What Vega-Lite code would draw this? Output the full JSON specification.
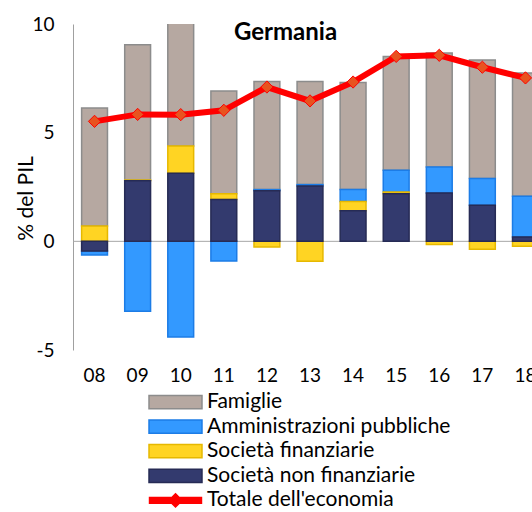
{
  "$schema": "https://vega.github.io/schema/vega-lite/v6.json",
  "width": 459,
  "height": 326,
  "autosize": {"type": "none"},
  "padding": {"left": 73, "top": 24, "right": 0, "bottom": 162},
  "background": "white",
  "config": {
    "view": {"stroke": null},
    "font": "Lato",
    "axis": {"labelFont": "Lato", "titleFont": "Lato", "labelColor": "black", "titleColor": "black", "grid": false, "ticks": false},
    "axisY": {"titleFontSize": 21, "titleFontWeight": "normal", "labelFontSize": 19}
  },
  "title": {"text": "Germania", "font": "Lato", "fontSize": 24, "fontWeight": "bold", "color": "black", "anchor": "middle", "baseline": "top", "offset": 0, "dx": -17, "dy": 30},
  "datasets": {
    "bars": [
      {"year": "08", "series": "Famiglie", "value": 5.43, "ord": 4},
      {"year": "08", "series": "Amministrazioni pubbliche", "value": -0.18, "ord": 3},
      {"year": "08", "series": "Società finanziarie", "value": 0.70, "ord": 2},
      {"year": "08", "series": "Società non finanziarie", "value": -0.45, "ord": 1},
      {"year": "09", "series": "Famiglie", "value": 6.23, "ord": 4},
      {"year": "09", "series": "Amministrazioni pubbliche", "value": -3.22, "ord": 3},
      {"year": "09", "series": "Società finanziarie", "value": 0.03, "ord": 2},
      {"year": "09", "series": "Società non finanziarie", "value": 2.79, "ord": 1},
      {"year": "10", "series": "Famiglie", "value": 5.84, "ord": 4},
      {"year": "10", "series": "Amministrazioni pubbliche", "value": -4.40, "ord": 3},
      {"year": "10", "series": "Società finanziarie", "value": 1.26, "ord": 2},
      {"year": "10", "series": "Società non finanziarie", "value": 3.13, "ord": 1},
      {"year": "11", "series": "Famiglie", "value": 4.73, "ord": 4},
      {"year": "11", "series": "Amministrazioni pubbliche", "value": -0.91, "ord": 3},
      {"year": "11", "series": "Società finanziarie", "value": 0.26, "ord": 2},
      {"year": "11", "series": "Società non finanziarie", "value": 1.93, "ord": 1},
      {"year": "12", "series": "Famiglie", "value": 4.97, "ord": 4},
      {"year": "12", "series": "Amministrazioni pubbliche", "value": 0.05, "ord": 3},
      {"year": "12", "series": "Società finanziarie", "value": -0.26, "ord": 2},
      {"year": "12", "series": "Società non finanziarie", "value": 2.33, "ord": 1},
      {"year": "13", "series": "Famiglie", "value": 4.75, "ord": 4},
      {"year": "13", "series": "Amministrazioni pubbliche", "value": 0.06, "ord": 3},
      {"year": "13", "series": "Società finanziarie", "value": -0.92, "ord": 2},
      {"year": "13", "series": "Società non finanziarie", "value": 2.55, "ord": 1},
      {"year": "14", "series": "Famiglie", "value": 4.92, "ord": 4},
      {"year": "14", "series": "Amministrazioni pubbliche", "value": 0.56, "ord": 3},
      {"year": "14", "series": "Società finanziarie", "value": 0.42, "ord": 2},
      {"year": "14", "series": "Società non finanziarie", "value": 1.41, "ord": 1},
      {"year": "15", "series": "Famiglie", "value": 5.24, "ord": 4},
      {"year": "15", "series": "Amministrazioni pubbliche", "value": 1.00, "ord": 3},
      {"year": "15", "series": "Società finanziarie", "value": 0.08, "ord": 2},
      {"year": "15", "series": "Società non finanziarie", "value": 2.19, "ord": 1},
      {"year": "16", "series": "Famiglie", "value": 5.25, "ord": 4},
      {"year": "16", "series": "Amministrazioni pubbliche", "value": 1.20, "ord": 3},
      {"year": "16", "series": "Società finanziarie", "value": -0.15, "ord": 2},
      {"year": "16", "series": "Società non finanziarie", "value": 2.22, "ord": 1},
      {"year": "17", "series": "Famiglie", "value": 5.45, "ord": 4},
      {"year": "17", "series": "Amministrazioni pubbliche", "value": 1.23, "ord": 3},
      {"year": "17", "series": "Società finanziarie", "value": -0.37, "ord": 2},
      {"year": "17", "series": "Società non finanziarie", "value": 1.66, "ord": 1},
      {"year": "18", "series": "Famiglie", "value": 5.68, "ord": 4},
      {"year": "18", "series": "Amministrazioni pubbliche", "value": 1.87, "ord": 3},
      {"year": "18", "series": "Società finanziarie", "value": -0.23, "ord": 2},
      {"year": "18", "series": "Società non finanziarie", "value": 0.20, "ord": 1}
    ],
    "tot": [
      {"year": "08", "total": 5.52},
      {"year": "09", "total": 5.84},
      {"year": "10", "total": 5.83},
      {"year": "11", "total": 6.03},
      {"year": "12", "total": 7.10},
      {"year": "13", "total": 6.46},
      {"year": "14", "total": 7.33},
      {"year": "15", "total": 8.51},
      {"year": "16", "total": 8.56},
      {"year": "17", "total": 8.01},
      {"year": "18", "total": 7.52}
    ]
  },
  "encoding": {
    "x": {
      "field": "year", "type": "ordinal",
      "scale": {"range": [0, 474], "paddingInner": 0.4, "paddingOuter": 0.2},
      "axis": {"title": null, "domain": false, "labelAngle": 0, "labelFontSize": 19, "labelPadding": 16}
    }
  },
  "layer": [
    {
      "data": {"values": [{"z": 0}]},
      "mark": {"type": "rule", "color": "#a6a6a6", "strokeWidth": 1, "clip": true},
      "encoding": {
        "y": {
          "field": "z", "type": "quantitative",
          "scale": {"domain": [-5, 10], "nice": false, "zero": false},
          "axis": {"title": "% del PIL", "values": [-5, 0, 5, 10], "labelExpr": "'' + datum.value", "labelFontSize": 19, "titleFontSize": 21, "titleFontWeight": "normal", "domainColor": "#a0a0a0", "labelPadding": 19, "titleX": -47, "titleY": 174, "titleBaseline": "middle", "titleAngle": -90}
        },
        "x": null
      }
    },
    {
      "data": {"name": "bars"},
      "mark": {"type": "bar", "strokeWidth": 1.5, "clip": true},
      "encoding": {
        "y": {
          "field": "value", "type": "quantitative", "stack": "zero",
          "axis": {"title": "% del PIL", "values": [-5, 0, 5, 10], "labelExpr": "'' + datum.value", "labelFontSize": 19, "titleFontSize": 21, "titleFontWeight": "normal", "domainColor": "#a0a0a0", "labelPadding": 19, "titleX": -47, "titleY": 174, "titleBaseline": "middle", "titleAngle": -90}
        },
        "order": {"field": "ord", "type": "quantitative"},
        "fill": {
          "field": "series", "type": "nominal",
          "scale": {
            "domain": ["Famiglie", "Amministrazioni pubbliche", "Società finanziarie", "Società non finanziarie", "Totale dell'economia"],
            "range": ["#b6a8a1", "#3399ff", "#ffd423", "#333a6e", "#ff0000"]
          },
          "legend": {
            "title": null, "orient": "none", "legendX": 75, "legendY": 367,
            "labelFont": "Lato", "labelFontSize": 21, "labelColor": "black", "labelLimit": 0,
            "symbolSize": 2809, "symbolType": "M-1,-0.25L1,-0.25L1,0.25L-1,0.25Z",
            "symbolOffset": 0, "labelOffset": 4, "rowPadding": 2.6, "clipHeight": 22,
            "encode": {
              "symbols": {
                "update": {
                  "shape": {"signal": "indexof(datum.value,'Totale')>=0 ? 'M-0.98,-0.11L0.98,-0.11L0.98,0.11L-0.98,0.11Z M0,-0.25L0.25,0L0,0.25L-0.25,0Z' : 'M-1,-0.25L1,-0.25L1,0.25L-1,0.25Z'"},
                  "stroke": {"signal": "datum.value=='Famiglie' ? '#8c8c8c' : indexof(datum.value,'Amministrazioni')>=0 ? '#1c7ce6' : indexof(datum.value,'non finanziarie')>=0 ? '#262b55' : indexof(datum.value,'finanziarie')>=0 ? '#e6b800' : '#ff0000'"},
                  "strokeWidth": {"value": 1.5},
                  "opacity": {"value": 1},
                  "fillOpacity": {"value": 1}
                }
              }
            }
          }
        },
        "stroke": {
          "field": "series", "type": "nominal",
          "scale": {
            "domain": ["Famiglie", "Amministrazioni pubbliche", "Società finanziarie", "Società non finanziarie"],
            "range": ["#8c8c8c", "#1c7ce6", "#e6b800", "#262b55"]
          },
          "legend": null
        }
      }
    },
    {
      "data": {"name": "tot"},
      "mark": {"type": "line", "color": "#ff0000", "strokeWidth": 6, "clip": true},
      "encoding": {"y": {"field": "total", "type": "quantitative"}}
    },
    {
      "data": {"name": "tot"},
      "mark": {"type": "point", "shape": "diamond", "size": 150, "filled": true, "fill": "#e8531f", "stroke": "#ff0000", "strokeWidth": 1, "opacity": 1, "clip": true},
      "encoding": {"y": {"field": "total", "type": "quantitative"}}
    }
  ],
  "resolve": {"scale": {"y": "shared"}}
}
